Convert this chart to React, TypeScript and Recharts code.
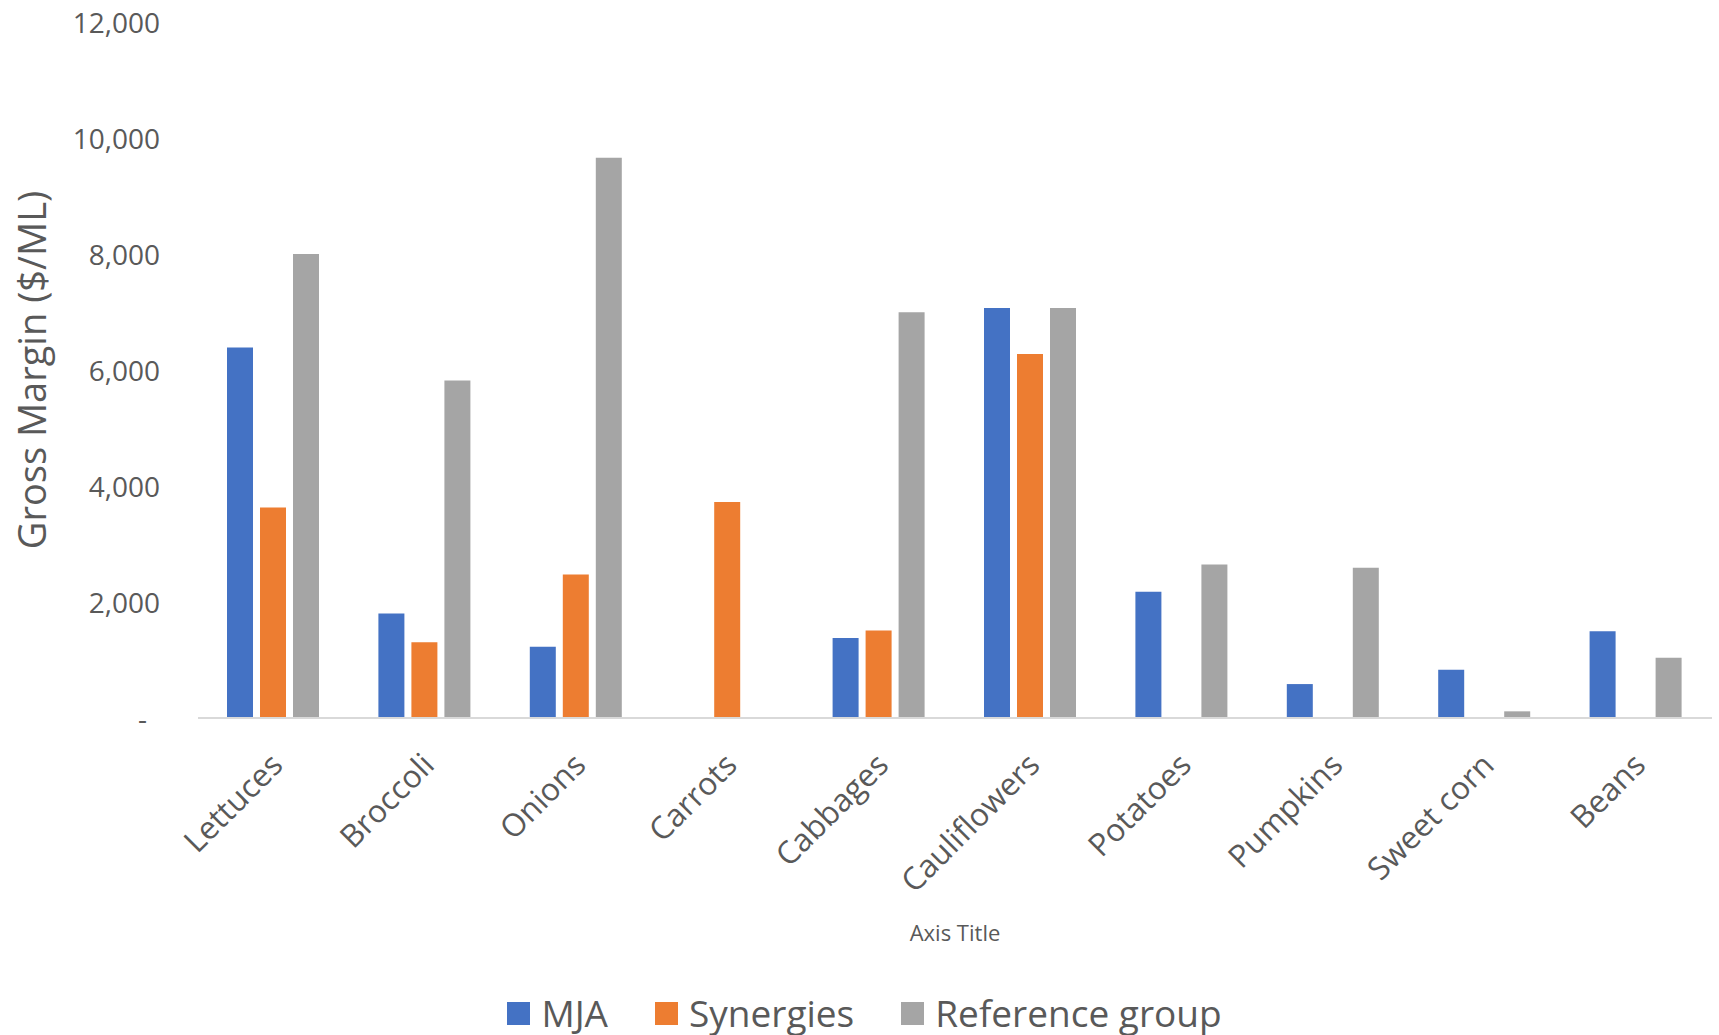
import React from 'react';
import { BarChart, Bar, XAxis, YAxis, Legend, Label } from 'recharts';

const categories = ['Lettuces', 'Broccoli', 'Onions', 'Carrots', 'Cabbages', 'Cauliflowers', 'Potatoes', 'Pumpkins', 'Sweet corn', 'Beans'];
const mja = [6390, 1800, 1230, null, 1380, 7070, 2175, 585, 830, 1495];
const synergies = [3630, 1305, 2475, 3725, 1510, 6275, null, null, null, null];
const referenceGroup = [8000, 5820, 9660, null, 6995, 7070, 2645, 2590, 115, 1040];
const yTicks = [0, 2000, 4000, 6000, 8000, 10000, 12000];
const seriesNames = ['MJA', 'Synergies', 'Reference group'];
const seriesKeys = ['mja', 'synergies', 'referenceGroup'];
const seriesColors = ['#4472C4', '#ED7D31', '#A5A5A5'];

const data = categories.map((c, i) => ({
  name: c,
  mja: mja[i],
  synergies: synergies[i],
  referenceGroup: referenceGroup[i],
}));

const FONT = '"Open Sans", sans-serif';
const TEXT = '#595959';

const YTick = (props: any) => {
  const { x, y, payload } = props;
  const v = payload.value as number;
  if (v === 0) {
    return (
      <text x={x - 13} y={y} textAnchor="end" dominantBaseline="central" fill={TEXT} fontSize={28} fontFamily={FONT}>-</text>
    );
  }
  return (
    <text x={x} y={y} textAnchor="end" dominantBaseline="central" fill={TEXT} fontSize={28} fontFamily={FONT}>
      {v.toLocaleString('en-US')}
    </text>
  );
};

const XTick = (props: any) => {
  const { x, y, payload } = props;
  return (
    <g transform={`translate(${x + 11},${y + 41})`}>
      <text x={0} y={0} textAnchor="end" transform="rotate(-45)" fill={TEXT} fontSize={31.5} fontFamily={FONT}>
        {payload.value}
      </text>
    </g>
  );
};

const LegendContent = () => (
  <div style={{ display: 'flex', justifyContent: 'center', alignItems: 'center', fontFamily: FONT, paddingLeft: 10 }}>
    {seriesNames.map((n, i) => (
      <div key={n} style={{ display: 'flex', alignItems: 'center', marginRight: i < seriesNames.length - 1 ? 47 : 0 }}>
        <div style={{ width: 23, height: 23, background: seriesColors[i], marginRight: 11 }} />
        <span style={{ fontSize: 37, color: TEXT, lineHeight: '46px' }}>{n}</span>
      </div>
    ))}
  </div>
);

export default function App() {
  return (
    <div style={{ position: 'absolute', left: 0, top: 0, width: 1719, height: 1035, background: '#fff' }}>
      <BarChart
        width={1719}
        height={1035}
        data={data}
        margin={{ top: 22, right: 7, bottom: 0, left: 0 }}
        barCategoryGap={29}
        barGap={7}
      >
        <XAxis
          dataKey="name"
          height={317}
          interval={0}
          tick={<XTick />}
          tickLine={false}
          axisLine={{ stroke: '#D9D9D9', strokeWidth: 2 }}
        >
          <Label
            content={(p: any) => {
              const vb = p.viewBox;
              return (
                <text x={vb.x + vb.width / 2} y={vb.y + 214} textAnchor="middle" dominantBaseline="central" fill={TEXT} fontSize={22} fontFamily={FONT}>
                  Axis Title
                </text>
              );
            }}
          />
        </XAxis>
        <YAxis
          width={198}
          domain={[0, 12000]}
          ticks={yTicks}
          interval={0}
          axisLine={false}
          tickLine={false}
          tickSize={6}
          tickMargin={32}
          tick={<YTick />}
        >
          <Label
            content={(p: any) => {
              const vb = p.viewBox;
              const cx = vb.x + 31;
              const cy = vb.y + vb.height / 2;
              return (
                <text x={cx} y={cy} textAnchor="middle" dominantBaseline="central" transform={`rotate(-90, ${cx}, ${cy})`} fill={TEXT} fontSize={38} fontFamily={FONT}>
                  Gross Margin ($/ML)
                </text>
              );
            }}
          />
        </YAxis>
        <Legend
          layout="horizontal"
          verticalAlign="middle"
          align="center"
          content={<LegendContent />}
          wrapperStyle={{ position: 'absolute', left: 0, top: 990, width: 1719, height: 46 }}
        />
        {seriesKeys.map((k, i) => (
          <Bar key={k} dataKey={k} name={seriesNames[i]} fill={seriesColors[i]} isAnimationActive={false} />
        ))}
      </BarChart>
    </div>
  );
}
